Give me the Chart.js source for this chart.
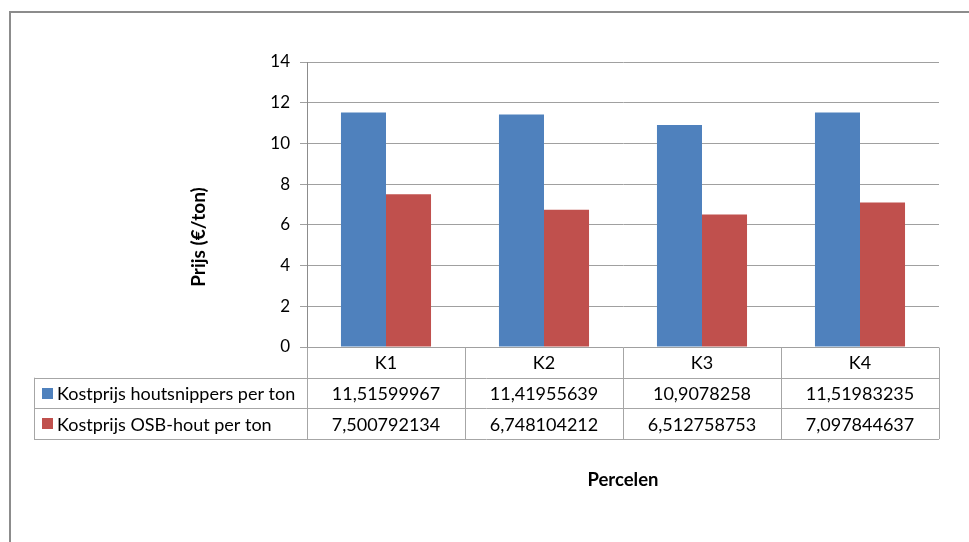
<!DOCTYPE html>
<html>
<head>
<meta charset="utf-8">
<script src="https://cdn.jsdelivr.net/npm/chart.js@4/dist/chart.umd.min.js"></script>
<style>
  html, body { margin: 0; padding: 0; background: #ffffff; overflow: hidden; }
  #wrap { width: 969px; height: 542px; position: relative; }
</style>
</head>
<body>
<div id="wrap"><canvas id="c" width="969" height="542"></canvas></div>
<script>
// Cost per ton for each parcel (Percelen K1..K4)
const categories = ['K1', 'K2', 'K3', 'K4'];
const seriesNames = ['Kostprijs houtsnippers per ton', 'Kostprijs OSB-hout per ton'];
const houtsnippers = [11.51599967, 11.41955639, 10.9078258, 11.51983235];
const osbHout = [7.500792134, 6.748104212, 6.512758753, 7.097844637];
const yTickValues = [0, 2, 4, 6, 8, 10, 12, 14];
const yTitle = 'Prijs (€/ton)';
const xTitle = 'Percelen';

const colors = ['#4F81BD', '#C0504D'];
const FONT = 'Lato, "Open Sans", sans-serif';

// Dutch decimal notation for the data table
const fmt = v => String(v).replace('.', ',');

// Data table underneath the plot, aligned to the category scale
const dataTablePlugin = {
  id: 'dataTable',
  afterDraw(chart) {
    const ctx = chart.ctx;
    const area = chart.chartArea;
    const n = categories.length;
    const colW = (area.right - area.left) / n;
    const rowH = 30.7;
    const top = area.bottom;
    const labelLeft = 34;
    const rows = [houtsnippers, osbHout];

    ctx.save();
    ctx.strokeStyle = '#a6a6a6';
    ctx.lineWidth = 1;

    const hl = (x0, x1, y) => { ctx.beginPath(); ctx.moveTo(x0, Math.round(y) + 0.5); ctx.lineTo(x1, Math.round(y) + 0.5); ctx.stroke(); };
    const vl = (x, y0, y1) => { ctx.beginPath(); ctx.moveTo(Math.round(x) + 0.5, y0); ctx.lineTo(Math.round(x) + 0.5, y1); ctx.stroke(); };

    hl(labelLeft, area.right, top + rowH);
    hl(labelLeft, area.right, top + 2 * rowH);
    hl(labelLeft, area.right, top + 3 * rowH);
    vl(labelLeft, top + rowH, top + 3 * rowH);
    for (let i = 0; i <= n; i++) {
      vl(area.left + i * colW, Math.round(top) + 0.5, top + 3 * rowH);
    }

    ctx.fillStyle = '#000000';
    ctx.font = '18px ' + FONT;
    ctx.textBaseline = 'middle';
    ctx.textAlign = 'center';
    const xs = chart.scales.x;
    categories.forEach((c, i) => {
      const cx = xs.getPixelForValue(i);
      ctx.fillText(c, cx, top + rowH / 2 + 1);
      rows.forEach((r, j) => {
        ctx.fillText(fmt(r[i]), cx, top + rowH * (j + 1.5) + 1);
      });
    });

    ctx.textAlign = 'left';
    seriesNames.forEach((name, j) => {
      const cy = top + rowH * (j + 1.5);
      ctx.fillStyle = colors[j];
      ctx.fillRect(42, Math.round(cy - 5.5), 11, 11);
      ctx.fillStyle = '#000000';
      ctx.fillText(name, 57, cy + 1);
    });

    // axis titles
    ctx.font = 'bold 18.5px ' + FONT;
    ctx.textAlign = 'center';
    ctx.fillText(xTitle, (area.left + area.right) / 2, 480);
    ctx.font = 'bold 19px ' + FONT;
    ctx.translate(199, 237);
    ctx.rotate(-Math.PI / 2);
    ctx.fillText(yTitle, 0, 0);
    ctx.restore();

    // outer frame of the chart object
    ctx.save();
    ctx.strokeStyle = '#8c8c8c';
    ctx.lineWidth = 2;
    ctx.beginPath();
    ctx.moveTo(10, 542);
    ctx.lineTo(10, 12);
    ctx.lineTo(969, 12);
    ctx.stroke();
    ctx.restore();
  }
};

new Chart(document.getElementById('c'), {
  type: 'bar',
  data: {
    labels: categories,
    datasets: [
      { label: seriesNames[0], data: houtsnippers, backgroundColor: colors[0], borderWidth: 0 },
      { label: seriesNames[1], data: osbHout, backgroundColor: colors[1], borderWidth: 0 }
    ]
  },
  options: {
    responsive: false,
    animation: false,
    devicePixelRatio: 1,
    layout: { padding: { top: 62, left: 0, right: 30, bottom: 195 } },
    plugins: { legend: { display: false }, tooltip: { enabled: false } },
    datasets: { bar: { categoryPercentage: 0.57, barPercentage: 1.0 } },
    scales: {
      x: { display: false },
      y: {
        min: 0,
        max: 14,
        afterFit(scale) { scale.width = 307; },
        afterBuildTicks(scale) { scale.ticks = yTickValues.map(v => ({ value: v })); },
        ticks: {
          padding: 10,
          color: '#000000',
          font: { family: FONT, size: 17 }
        },
        grid: { color: '#a0a0a0', lineWidth: 1, tickLength: 7, drawTicks: true },
        border: { display: true, color: '#8c8c8c', width: 1 }
      }
    }
  },
  plugins: [dataTablePlugin]
});
</script>
</body>
</html>
